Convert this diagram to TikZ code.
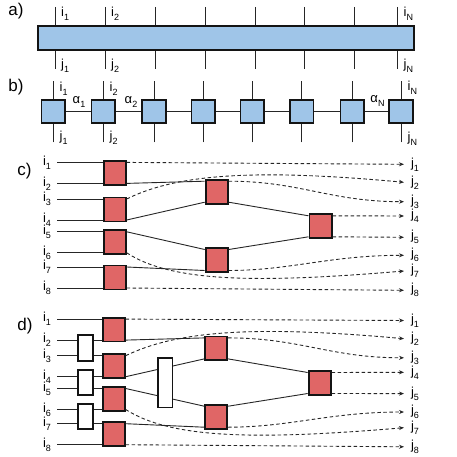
\documentclass[tikz,border=0pt]{standalone}
\usepackage{fontspec}
\setmainfont{Liberation Sans}
\usetikzlibrary{arrows.meta}
\definecolor{tnblue}{HTML}{9FC5E8}
\definecolor{tnred}{HTML}{E06666}
\definecolor{tnline}{HTML}{262626}
\definecolor{tnedge}{HTML}{141414}
\newcommand{\tnsub}[1]{\raisebox{-4pt}{\fontsize{9}{9}\selectfont#1}}
\begin{document}
\begin{tikzpicture}[>={Stealth[length=5pt,width=4pt]},x=1pt,y=-1pt,
	leg/.style={draw=tnline,line width=0.9pt},
	dleg/.style={leg,dash pattern=on 3.5pt off 2.5pt,->},
	tnbox/.style={draw=tnedge,line width=1.8pt,inner sep=0pt},
	bsq/.style={tnbox,fill=tnblue,minimum width=23.5pt,minimum height=23.2pt},
	rsq/.style={tnbox,fill=tnred,minimum width=22.2pt,minimum height=23.9pt},
	gatebox/.style={tnbox,fill=white,minimum width=14.6pt,minimum height=25.5pt},
	lbl/.style={inner sep=0pt,font=\fontsize{13}{13}\selectfont},
	inlbl/.style={lbl,anchor=east,outer xsep=6pt},
	outlbl/.style={lbl,anchor=west,outer xsep=7pt},
	panel/.style={inner sep=0pt,font=\fontsize{17}{17}\selectfont}]
			\def\tnpin{10.5pt}
			\useasboundingbox (0,0) rectangle (457,457);
			\node[panel] (pa) at (16,11) {a)};
			\node[tnbox,fill=tnblue,minimum width=376.2pt,minimum height=24.2pt] (mpo) at (226,38) {};
			\path (55.7,7) coordinate (at1) (105.7,7) coordinate (at2) (155,7) coordinate (at3) (205,7) coordinate (at4)
			(255,7) coordinate (at5) (304,7) coordinate (at6) (354,7) coordinate (at7) (397,7) coordinate (at8);
			\path (55.7,69) coordinate (ab1) (105.7,69) coordinate (ab2) (155,69) coordinate (ab3) (205,69) coordinate (ab4)
			(255,69) coordinate (ab5) (304,69) coordinate (ab6) (354,69) coordinate (ab7) (397,69) coordinate (ab8);
			\draw[leg] (at1) -- (at1 |- mpo.north) (at2) -- (at2 |- mpo.north) (at3) -- (at3 |- mpo.north)
			(at4) -- (at4 |- mpo.north) (at5) -- (at5 |- mpo.north) (at6) -- (at6 |- mpo.north)
			(at7) -- (at7 |- mpo.north) (at8) -- (at8 |- mpo.north);
			\draw[leg] (ab1) -- (ab1 |- mpo.south) (ab2) -- (ab2 |- mpo.south) (ab3) -- (ab3 |- mpo.south)
			(ab4) -- (ab4 |- mpo.south) (ab5) -- (ab5 |- mpo.south) (ab6) -- (ab6 |- mpo.south)
			(ab7) -- (ab7 |- mpo.south) (ab8) -- (ab8 |- mpo.south);
			\node[lbl,anchor=west] (ai1) at (61,13.7) {i\tnsub{1}};
			\node[lbl,anchor=west] (ai2) at (111,13.7) {i\tnsub{2}};
			\node[lbl,anchor=west] (aiN) at (403.5,13.7) {i\tnsub{N}};
			\node[lbl,anchor=west] (aj1) at (61,66) {j\tnsub{1}};
			\node[lbl,anchor=west] (aj2) at (111,66) {j\tnsub{2}};
			\node[lbl,anchor=west] (ajN) at (403.5,66) {j\tnsub{N}};
			\node[panel] (pb) at (16,87) {b)};
			\node[bsq] (b1) at (53.3,111.8) {};
			\node[bsq] (b2) at (103.3,111.8) {};
			\node[bsq] (b3) at (154,111.8) {};
			\node[bsq] (b4) at (203.3,111.8) {};
			\node[bsq] (b5) at (252.3,111.8) {};
			\node[bsq] (b6) at (301.7,111.8) {};
			\node[bsq] (b7) at (352.3,111.8) {};
			\node[bsq] (b8) at (401,111.8) {};
			\draw[leg] (b1) edge (b2) (b2) edge (b3) (b3) edge (b4) (b4) edge (b5) (b5) edge (b6) (b6) edge (b7) (b7) edge (b8);
			\path (53.3,81.5) coordinate (bt1) (103.3,81.5) coordinate (bt2) (154,81.5) coordinate (bt3) (203.3,81.5) coordinate (bt4)
			(252.3,81.5) coordinate (bt5) (301.7,81.5) coordinate (bt6) (352.3,81.5) coordinate (bt7) (401,81.5) coordinate (bt8);
			\path (53.3,142.5) coordinate (bb1) (103.3,142.5) coordinate (bb2) (154,142.5) coordinate (bb3) (203.3,142.5) coordinate (bb4)
			(252.3,142.5) coordinate (bb5) (301.7,142.5) coordinate (bb6) (352.3,142.5) coordinate (bb7) (401,142.5) coordinate (bb8);
			\draw[leg] (bt1) edge (b1) (bt2) edge (b2) (bt3) edge (b3) (bt4) edge (b4) (bt5) edge (b5) (bt6) edge (b6) (bt7) edge (b7) (bt8) edge (b8);
			\draw[leg] (bb1) edge (b1) (bb2) edge (b2) (bb3) edge (b3) (bb4) edge (b4) (bb5) edge (b5) (bb6) edge (b6) (bb7) edge (b7) (bb8) edge (b8);
			\node[lbl,anchor=west] (bi1) at (59.5,89) {i\tnsub{1}};
			\node[lbl,anchor=west] (bi2) at (109.5,89) {i\tnsub{2}};
			\node[lbl,anchor=west] (biN) at (407.5,88) {i\tnsub{N}};
			\node[lbl,anchor=west] (bj1) at (59.5,137.5) {j\tnsub{1}};
			\node[lbl,anchor=west] (bj2) at (109.5,137.5) {j\tnsub{2}};
			\node[lbl,anchor=west] (bjN) at (407.5,139) {j\tnsub{N}};
			\node[lbl] (ba1) at (79,102) {α\tnsub{1}};
			\node[lbl] (ba2) at (131,102) {α\tnsub{2}};
			\node[lbl] (baN) at (377.5,101.5) {α\tnsub{N}};
			\node[panel] (pc) at (24.5,171) {c)};
			\node[rsq] (c1) at (114.7,172.9) {};
			\node[rsq] (c2) at (114.7,209.5) {};
			\node[rsq] (c3) at (114.7,242.3) {};
			\node[rsq] (c4) at (114.7,277.5) {};
			\node[rsq] (c5) at (216.7,191.7) {};
			\node[rsq] (c6) at (216.7,260) {};
			\node[rsq] (c7) at (320.5,226.3) {};
			\node[inlbl] (ci1) at (57,162.4) {i\tnsub{1}};
			\node[inlbl] (ci2) at (57,183.4) {i\tnsub{2}};
			\node[inlbl] (ci3) at (57,199) {i\tnsub{3}};
			\node[inlbl] (ci4) at (57,220) {i\tnsub{4}};
			\node[inlbl] (ci5) at (57,231.8) {i\tnsub{5}};
			\node[inlbl] (ci6) at (57,252.8) {i\tnsub{6}};
			\node[inlbl] (ci7) at (57,267) {i\tnsub{7}};
			\node[inlbl] (ci8) at (57,288) {i\tnsub{8}};
			\node[outlbl] (cj1) at (404,164.3) {j\tnsub{1}};
			\node[outlbl] (cj2) at (404,182.3) {j\tnsub{2}};
			\node[outlbl] (cj3) at (404,201.7) {j\tnsub{3}};
			\node[outlbl] (cj4) at (404,216) {j\tnsub{4}};
			\node[outlbl] (cj5) at (404,237.3) {j\tnsub{5}};
			\node[outlbl] (cj6) at (404,255.3) {j\tnsub{6}};
			\node[outlbl] (cj7) at (404,271) {j\tnsub{7}};
			\node[outlbl] (cj8) at (404,290.3) {j\tnsub{8}};
			\draw[leg] (ci1.east) -- ([yshift=\tnpin]c1.west) (ci2.east) -- ([yshift=-\tnpin]c1.west)
			(ci3.east) -- ([yshift=\tnpin]c2.west) (ci4.east) -- ([yshift=-\tnpin]c2.west)
			(ci5.east) -- ([yshift=\tnpin]c3.west) (ci6.east) -- ([yshift=-\tnpin]c3.west)
			(ci7.east) -- ([yshift=\tnpin]c4.west) (ci8.east) -- ([yshift=-\tnpin]c4.west);
			\draw[leg] ([yshift=-\tnpin]c1.east) -- ([yshift=\tnpin]c5.west) ([yshift=-\tnpin]c2.east) -- ([yshift=-\tnpin]c5.west)
			([yshift=\tnpin]c3.east) -- ([yshift=\tnpin]c6.west) ([yshift=\tnpin]c4.east) -- ([yshift=-\tnpin]c6.west)
			([yshift=-\tnpin]c5.east) -- ([yshift=\tnpin]c7.west) ([yshift=\tnpin]c6.east) -- ([yshift=-\tnpin]c7.west);
			\draw[dleg] ([yshift=\tnpin]c1.east) -- (cj1.west);
			\draw[dleg] ([yshift=\tnpin]c2.east) .. controls (175,175) and (250,168) .. (cj2.west);
			\draw[dleg] ([yshift=\tnpin]c5.east) .. controls (300,181.2) and (330,201.7) .. (cj3.west);
			\draw[dleg] ([yshift=\tnpin]c7.east) -- (cj4.west);
			\draw[dleg] ([yshift=-\tnpin]c7.east) -- (cj5.west);
			\draw[dleg] ([yshift=-\tnpin]c6.east) .. controls (290,270.5) and (330,255.3) .. (cj6.west);
			\draw[dleg] ([yshift=-\tnpin]c3.east) .. controls (170,281) and (250,284) .. (cj7.west);
			\draw[dleg] ([yshift=-\tnpin]c4.east) -- (cj8.west);
			\node[panel] (pd) at (25,326) {d)};
			\node[rsq] (d1) at (113.7,329.6) {};
			\node[rsq] (d2) at (113.7,366.2) {};
			\node[rsq] (d3) at (113.7,399) {};
			\node[rsq] (d4) at (113.7,434.2) {};
			\node[rsq] (d5) at (216.2,348.4) {};
			\node[rsq] (d6) at (216.2,416.7) {};
			\node[rsq] (d7) at (319.7,383) {};
			\node[inlbl] (di1) at (57,319.1) {i\tnsub{1}};
			\node[inlbl] (di2) at (57,340.1) {i\tnsub{2}};
			\node[inlbl] (di3) at (57,355.7) {i\tnsub{3}};
			\node[inlbl] (di4) at (57,376.7) {i\tnsub{4}};
			\node[inlbl] (di5) at (57,388.5) {i\tnsub{5}};
			\node[inlbl] (di6) at (57,409.5) {i\tnsub{6}};
			\node[inlbl] (di7) at (57,423.7) {i\tnsub{7}};
			\node[inlbl] (di8) at (57,444.7) {i\tnsub{8}};
			\node[outlbl] (dj1) at (404,320.5) {j\tnsub{1}};
			\node[outlbl] (dj2) at (404,338.7) {j\tnsub{2}};
			\node[outlbl] (dj3) at (404,357.8) {j\tnsub{3}};
			\node[outlbl] (dj4) at (404,372.3) {j\tnsub{4}};
			\node[outlbl] (dj5) at (404,393.6) {j\tnsub{5}};
			\node[outlbl] (dj6) at (404,412) {j\tnsub{6}};
			\node[outlbl] (dj7) at (404,427.7) {j\tnsub{7}};
			\node[outlbl] (dj8) at (404,446.8) {j\tnsub{8}};
			\draw[leg] (di1.east) -- ([yshift=\tnpin]d1.west) (di2.east) -- ([yshift=-\tnpin]d1.west)
			(di3.east) -- ([yshift=\tnpin]d2.west) (di4.east) -- ([yshift=-\tnpin]d2.west)
			(di5.east) -- ([yshift=\tnpin]d3.west) (di6.east) -- ([yshift=-\tnpin]d3.west)
			(di7.east) -- ([yshift=\tnpin]d4.west) (di8.east) -- ([yshift=-\tnpin]d4.west);
			\draw[leg] ([yshift=-\tnpin]d1.east) -- ([yshift=\tnpin]d5.west) ([yshift=-\tnpin]d2.east) -- ([yshift=-\tnpin]d5.west)
			([yshift=\tnpin]d3.east) -- ([yshift=\tnpin]d6.west) ([yshift=\tnpin]d4.east) -- ([yshift=-\tnpin]d6.west)
			([yshift=-\tnpin]d5.east) -- ([yshift=\tnpin]d7.west) ([yshift=\tnpin]d6.east) -- ([yshift=-\tnpin]d7.west);
			\draw[dleg] ([yshift=\tnpin]d1.east) -- (dj1.west);
			\draw[dleg] ([yshift=\tnpin]d2.east) .. controls (175,331.7) and (250,324.7) .. (dj2.west);
			\draw[dleg] ([yshift=\tnpin]d5.east) .. controls (300,337.9) and (330,357.8) .. (dj3.west);
			\draw[dleg] ([yshift=\tnpin]d7.east) -- (dj4.west);
			\draw[dleg] ([yshift=-\tnpin]d7.east) -- (dj5.west);
			\draw[dleg] ([yshift=-\tnpin]d6.east) .. controls (290,427.2) and (330,412) .. (dj6.west);
			\draw[dleg] ([yshift=-\tnpin]d3.east) .. controls (170,437.7) and (250,440.7) .. (dj7.west);
			\draw[dleg] ([yshift=-\tnpin]d4.east) -- (dj8.west);
			\node[gatebox] (g1) at (85.5,347.9) {};
			\node[gatebox] (g2) at (85.5,382.6) {};
			\node[gatebox] (g3) at (85.5,416.6) {};
			\node[gatebox,minimum height=49.8pt,minimum width=14.8pt] (g4) at (165,382.5) {};
		\end{tikzpicture}
\end{document}
